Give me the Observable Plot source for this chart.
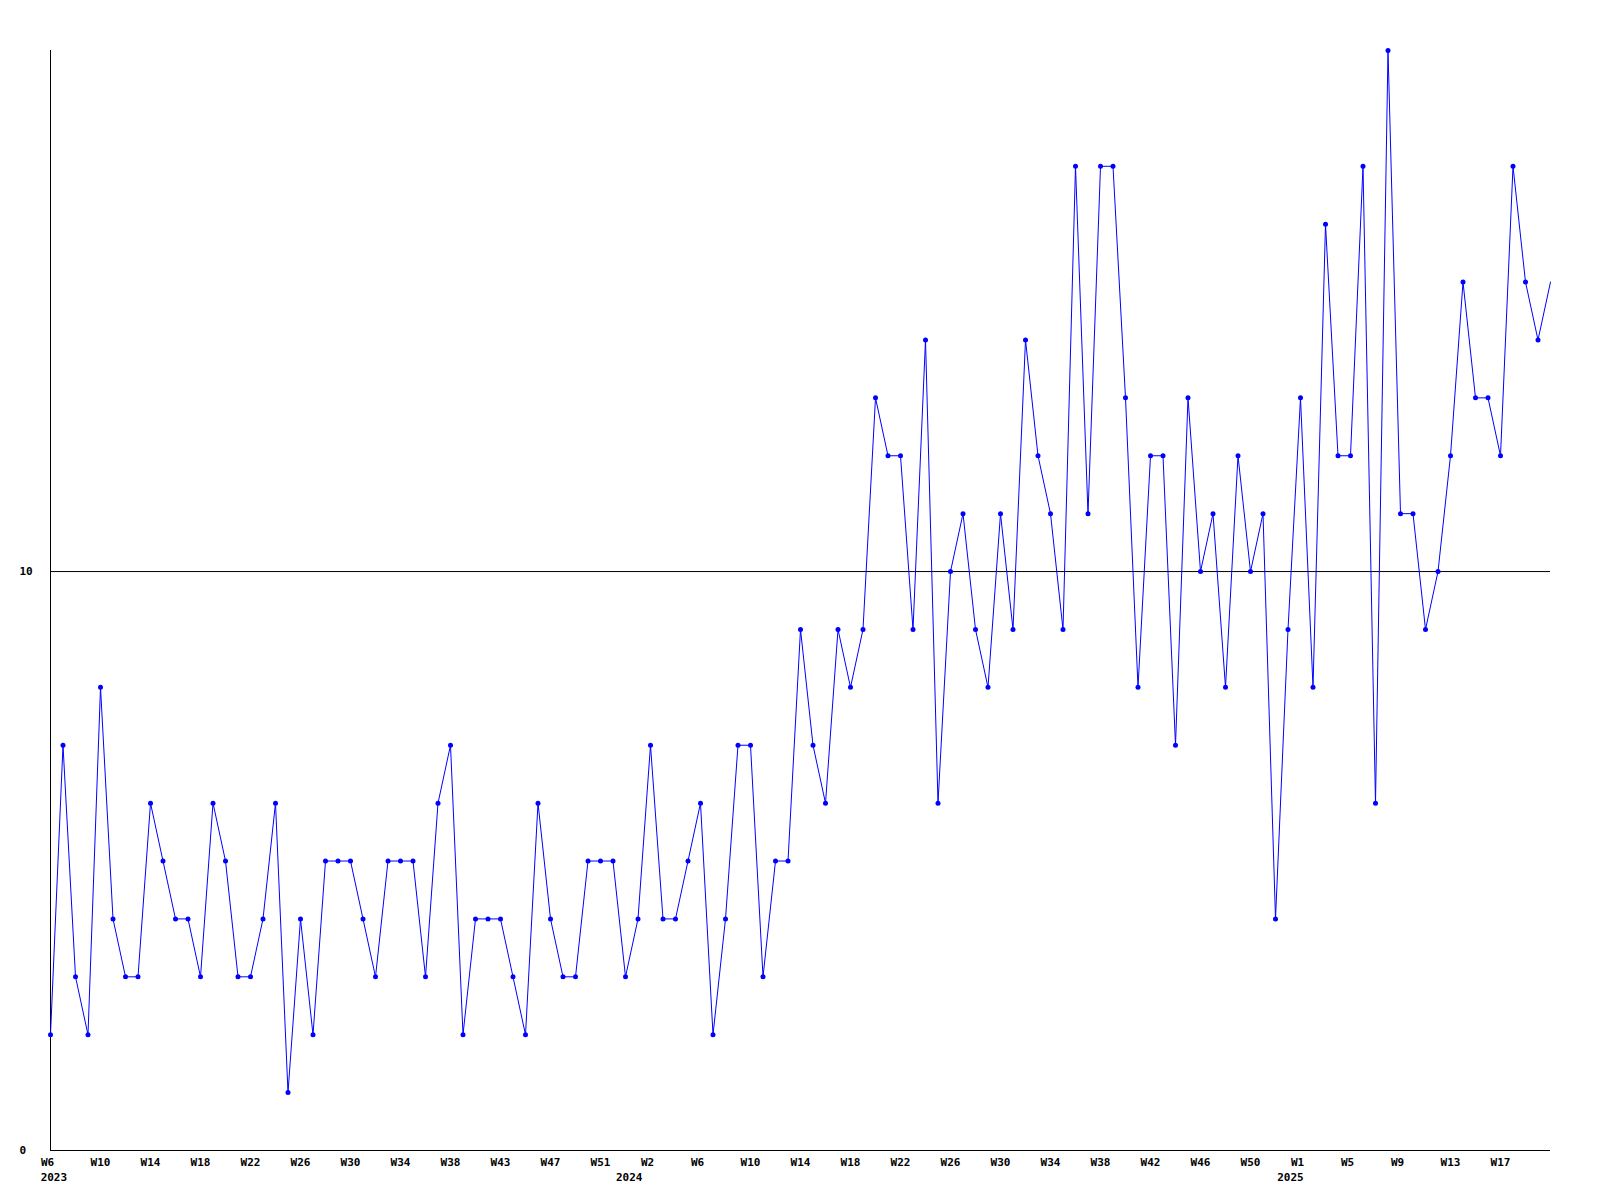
<!DOCTYPE html>
<html>
<head>
<meta charset="utf-8">
<script src="https://cdn.jsdelivr.net/npm/d3@7"></script>
<script src="https://cdn.jsdelivr.net/npm/@observablehq/plot@0.6"></script>
<style>
  html, body { margin: 0; padding: 0; background: #ffffff; }
  #chart svg { display: block; }
</style>
</head>
<body>
<div id="chart"></div>
<script>
// Weekly values, from 2023 W6 onward (one value per week)
const values = [
  2, 7, 3, 2, 8, 4, 3, 3, 6, 5, 4, 4, 3, 6, 5, 3, 3, 4, 6, 1,
  4, 2, 5, 5, 5, 4, 3, 5, 5, 5, 3, 6, 7, 2, 4, 4, 4, 3, 2, 6,
  4, 3, 3, 5, 5, 5, 3, 4, 7, 4, 4, 5, 6, 2, 4, 7, 7, 3, 5, 5,
  9, 7, 6, 9, 8, 9, 13, 12, 12, 9, 14, 6, 10, 11, 9, 8, 11, 9, 14, 12,
  11, 9, 17, 11, 17, 17, 13, 8, 12, 12, 7, 13, 10, 11, 8, 12, 10, 11, 4, 9,
  13, 8, 16, 12, 12, 17, 6, 19, 11, 11, 9, 10, 12, 15, 13, 13, 12, 17, 15, 14,
  15
];

// X tick labels, one every 4 weeks
const weekLabels = [
  "W6", "W10", "W14", "W18", "W22", "W26", "W30", "W34", "W38", "W43", "W47", "W51",
  "W2", "W6", "W10", "W14", "W18", "W22", "W26", "W30", "W34", "W38", "W42", "W46", "W50",
  "W1", "W5", "W9", "W13", "W17"
];
const tickStep = 4;

// Year labels and the week index they sit at
const years = ["2023", "2024", "2025"];
const yearWeekIndex = [0.27, 46.3, 99.2];

// Y tick labels
const yTicks = [0, 10];
const yMax = 19;

const data = values.map((v, i) => ({week: i, value: v}));
const weekTicks = weekLabels.map((label, k) => ({week: k * tickStep, label}));
const shortTicks = weekTicks.filter(d => d.label.length < 3);
const longTicks = weekTicks.filter(d => d.label.length >= 3);
const yearTicks = years.map((label, k) => ({week: yearWeekIndex[k], label}));

const font = "'DejaVu Sans Mono', 'Liberation Mono', monospace";

const chart = Plot.plot({
  width: 1600,
  height: 1200,
  marginLeft: 50,
  marginRight: 50,
  marginTop: 50,
  marginBottom: 50,
  style: {fontFamily: font, fontSize: "11px", fontWeight: "bold", background: "#ffffff", color: "#000000"},
  x: {type: "linear", domain: [0, values.length - 1], axis: null},
  y: {type: "linear", domain: [0, yMax], axis: null},
  marks: [
    Plot.ruleY([10], {stroke: "#000000", strokeWidth: 1}),
    Plot.ruleY([0], {stroke: "#000000", strokeWidth: 1}),
    Plot.ruleX([0], {y1: 0, y2: yMax, stroke: "#000000", strokeWidth: 1}),
    Plot.line(data, {x: "week", y: "value", stroke: "#0000ff", strokeWidth: 1, curve: "linear"}),
    Plot.dot(data.slice(0, -1), {x: "week", y: "value", r: 2.5, fill: "#0000ff", stroke: "none", symbol: "circle"}),
    Plot.text(yTicks, {
      y: d => d, text: d => String(d), frameAnchor: "left",
      textAnchor: "start", lineAnchor: "middle", dx: -31, fill: "#000000"
    }),
    Plot.text(longTicks, {
      x: "week", text: "label", frameAnchor: "bottom",
      textAnchor: "middle", lineAnchor: "top", dy: 8, fill: "#000000"
    }),
    Plot.text(shortTicks, {
      x: "week", text: "label", frameAnchor: "bottom",
      textAnchor: "middle", lineAnchor: "top", dy: 8, dx: -3, fill: "#000000"
    }),
    Plot.text(yearTicks, {
      x: "week", text: "label", frameAnchor: "bottom",
      textAnchor: "middle", lineAnchor: "top", dy: 23, fill: "#000000"
    })
  ]
});

document.getElementById("chart").appendChild(chart);
</script>
</body>
</html>
